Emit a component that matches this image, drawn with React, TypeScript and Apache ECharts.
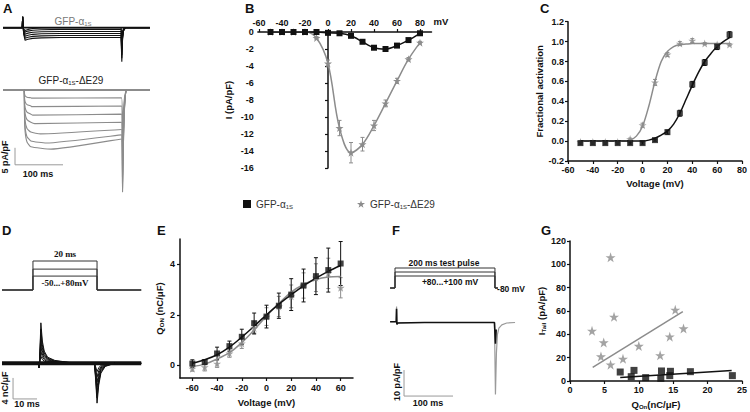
import React, { useEffect, useRef } from 'react';
import * as echarts from 'echarts';

const STAR = 'path://M50,0L61.8,35.3L98.9,35.3L68.9,57.3L80.3,92.7L50,70.9L19.7,92.7L31.1,57.3L1.1,35.3L38.2,35.3Z';
const WT = 'GFP-α1S';
const DE = 'GFP-α1S-ΔE29';
const BLACK = '#111111';
const GREY = '#8c8c8c';

// ---- Panel A: current traces (pA/pF vs ms)
const A_WT_T = [0, 40, 41, 42, 43, 46, 52, 62, 80, 120, 246, 247.5, 249, 251, 255, 306];
const A_WT_LEVELS = [0, -0.5, -1.1, -1.7, -2.3, -2.9];
const A_WT_TAILS = [-3, -5, -6.5, -8, -9, -10];
const A_DE_PEAK = [-2.4, -4.9, -7.4, -9.9, -12.9, -15.6, -17.4];
const A_DE_END = [-2.3, -4.7, -7.1, -9.5, -11.6, -13.2, -14.4];
const A_DE_PEAK_T = [60, 60, 62, 66, 78, 90, 100];
const A_DE_TAILS = [-12, -18, -22, -25, -27, -29, -30];

// ---- Panel B: I-V
const B_V = [-50, -40, -30, -20, -10, 0, 10, 20, 30, 40, 50, 60, 70, 80];
const B_WT = [0, 0, 0, 0, 0, -0.1, -0.15, -0.45, -1.15, -1.85, -2.0, -1.6, -0.95, -0.15];
const B_DE = [0, 0, 0, 0, -0.7, -3.7, -11.3, -14.2, -13.2, -11.0, -8.4, -5.75, -3.2, -1.25];
const B_DE_ERR = [0, 0, 0, 0, 0.15, 0.4, 0.9, 1.2, 0.8, 0.6, 0.4, 0.3, 0.2, 0.15];

// ---- Panel C: fractional activation
const C_V = [-50, -40, -30, -20, -10, 0, 10, 20, 30, 40, 50, 60, 70];
const C_WT = [-0.02, -0.02, -0.02, -0.02, -0.02, -0.02, 0.01, 0.09, 0.28, 0.57, 0.79, 0.95, 1.07];
const C_DE = [-0.01, -0.01, -0.01, -0.01, 0.02, 0.16, 0.59, 0.87, 0.98, 1.01, 0.98, 0.97, 0.97];
const C_WT_ERR = [0.01, 0.01, 0.01, 0.01, 0.01, 0.01, 0.01, 0.02, 0.03, 0.03, 0.03, 0.03, 0.03];
const C_DE_ERR = [0.01, 0.01, 0.01, 0.01, 0.01, 0.02, 0.03, 0.02, 0.02, 0.02, 0.01, 0.01, 0.01];
const C_FIT_V = [-50, -30, -15, -10, -5, 0, 5, 10, 15, 20, 25, 30, 35, 40, 45, 50, 55, 60, 65, 70];
const C_FIT_DE = [0, 0, 0, 0.01, 0.05, 0.15, 0.35, 0.6, 0.8, 0.9, 0.95, 0.97, 0.975, 0.98, 0.98, 0.98, 0.98, 0.98, 0.98, 0.98];
const C_FIT_WT = [0, 0, 0, 0, 0, 0, 0.01, 0.03, 0.06, 0.1, 0.17, 0.28, 0.42, 0.56, 0.69, 0.8, 0.88, 0.95, 1.0, 1.04];

// ---- Panel D: charge traces
const D_PROTO_T = [0, 12.9, 12.9, 39.6, 39.6, 58];
const D_PROTO_LEVELS = [0.48, 0.72, 1.0];
const D_T = [0, 15.2, 15.5, 15.8, 16.2, 16.8, 17.6, 19, 22, 28, 38.5, 39.0, 39.6, 40.3, 41.2, 43, 47, 58];
const D_ON = [7.7, 6.5, 5.4, 4.3, 3.2, 2.2, 1.3];
const D_OFF = [-7.6, -6.6, -5.6, -4.6, -3.6, -2.6, -1.6];

// ---- Panel E: Q-V
const E_V = [-60, -50, -40, -30, -20, -10, 0, 10, 20, 30, 40, 50, 60];
const E_WT = [0.07, 0.13, 0.47, 0.76, 1.13, 1.67, 1.93, 2.36, 2.8, 3.16, 3.53, 3.77, 4.03];
const E_DE = [-0.13, -0.07, 0.07, 0.47, 0.87, 1.47, 1.93, 2.33, 2.73, 3.16, 3.47, 3.64, 3.07];
const E_WT_ERR = [0.15, 0.1, 0.25, 0.2, 0.3, 0.4, 0.45, 0.5, 0.63, 0.65, 0.73, 0.87, 0.87];
const E_DE_ERR = [0.1, 0.15, 0.15, 0.15, 0.2, 0.25, 0.35, 0.4, 0.45, 0.5, 0.55, 0.6, 0.4];
const E_FIT_WT = [0.08, 0.22, 0.42, 0.72, 1.12, 1.55, 2.0, 2.42, 2.8, 3.15, 3.45, 3.72, 3.95];
const E_FIT_DE = [-0.05, 0.05, 0.25, 0.5, 0.9, 1.4, 1.95, 2.45, 2.9, 3.2, 3.4, 3.5, 3.52];

// ---- Panel F: tail current
const F_PROTO_T = [-10, 0, 0, 204, 204, 210];
const F_PROTO_LEVELS = [0.6, 0.8, 1.0];
const F_DE_T = [-10, 2.5, 3.2, 3.8, 5, 10, 60, 150, 203, 205, 207, 209, 212, 218, 228, 245];
const F_DE_I = [0, 0, 5.8, -1.2, -0.6, -0.4, -0.3, -0.3, -0.3, -28, -12, -5, -2.5, -1.2, -0.5, -0.3];
const F_WT_T = [-10, 2.5, 3.2, 3.8, 5, 60, 203, 205, 206.5];
const F_WT_I = [0, 0, 5, -1, -0.5, -0.3, -0.3, -8.5, -3];

// ---- Panel G: Itail vs Qon
const G_DE_X = [3.2, 4.5, 4.9, 5.9, 5.9, 6.4, 7.7, 10.0, 13.1, 14.5, 15.3, 16.5];
const G_DE_Y = [43, 21, 33, 106, 14, 55, 19, 30, 22, 38, 61, 45];
const G_DE_FIT_X = [3.3, 16.4];
const G_DE_FIT_Y = [11.7, 59.4];
const G_WT_X = [7.3, 8.9, 9.3, 11.0, 13.3, 13.2, 14.5, 14.6, 17.5, 23.6];
const G_WT_Y = [7.7, 3.7, 9.1, 2.9, 8.6, 2.3, 4.6, 8.3, 8.0, 4.6];
const G_WT_FIT_X = [7.3, 23.5];
const G_WT_FIT_Y = [3.1, 9.1];

const zip = (a: number[], b: number[]) => a.map((x, i) => [x, b[i]]);
const zip3 = (a: number[], b: number[], c: number[]) => a.map((x, i) => [x, b[i], c[i]]);

const FONT = 'Liberation Sans';
const lbl = { fontFamily: FONT, fontWeight: 'bold', fontSize: 9, color: '#111' };
const axLine = { show: true, lineStyle: { color: '#111', width: 1.5 } };
const axTick = { show: true, length: 3, lineStyle: { color: '#111', width: 1.2 } };
const nameStyle = { fontFamily: FONT, fontWeight: 'bold', fontSize: 9.5, color: '#111' };
const richName = {
  a: { fontFamily: FONT, fontWeight: 'bold', fontSize: 9.5, color: '#111' },
  s: { fontFamily: FONT, fontWeight: 'bold', fontSize: 6, color: '#111', padding: [6, 0, 0, 0] },
};

function hidden(gridIndex: number, min: number, max: number) {
  return { type: 'value', gridIndex, min, max, show: false };
}

function errRender(color: string, cap: number) {
  return (params: any, api: any) => {
    const x = api.value(0), y = api.value(1), e = api.value(2);
    const p1 = api.coord([x, y + e]);
    const p2 = api.coord([x, y - e]);
    const s = { stroke: color, lineWidth: 1 };
    return {
      type: 'group',
      children: [
        { type: 'line', shape: { x1: p1[0], y1: p1[1], x2: p2[0], y2: p2[1] }, style: s },
        { type: 'line', shape: { x1: p1[0] - cap, y1: p1[1], x2: p1[0] + cap, y2: p1[1] }, style: s },
        { type: 'line', shape: { x1: p2[0] - cap, y1: p2[1], x2: p2[0] + cap, y2: p2[1] }, style: s },
      ],
    };
  };
}

function traceLine(gi: number, data: number[][], color: string, width: number, z = 2): any {
  return {
    type: 'line', xAxisIndex: gi, yAxisIndex: gi, data, symbol: 'none', silent: true,
    lineStyle: { color, width }, z, clip: false,
  };
}

function buildOption() {
  const series: any[] = [];

  // Panel A black
  A_WT_LEVELS.forEach((L, i) => {
    const tail = A_WT_TAILS[i];
    const v = [0, 0, 3.2, 0.3, L * 0.5 - 0.4, L - 0.8, L - 0.5, L - 0.25, L - 0.1, L, L, tail, tail * 0.35, tail * 0.1, 0, 0];
    series.push(traceLine(0, zip(A_WT_T, v), BLACK, 1.1));
  });
  series.push(traceLine(0, [[0, 0], [306, 0]], BLACK, 1.8));
  // Panel A grey
  series.push(traceLine(1, [[0, 0], [306, 0]], GREY, 2));
  A_DE_PEAK.forEach((p, i) => {
    const e = A_DE_END[i], tail = A_DE_TAILS[i], pt = A_DE_PEAK_T[i];
    const t = [0, 44, 44.8, 46, 50, 58, pt, 247, 249, 251, 253.5, 258, 306];
    const v = [0, 0, p * 0.45, p * 0.7, p * 0.88, p * 0.96, p, e, tail, tail * 0.5, tail * 0.15, 0, 0];
    series.push({ ...traceLine(1, zip(t, v), GREY, 1.1), smooth: 0.15 });
  });
  // scale bar A (5 pA/pF, 100 ms)
  series.push(traceLine(1, [[25, -17], [25, -22], [125, -22]], '#9a9a9a', 1));

  // Panel B
  series.push({
    type: 'custom', xAxisIndex: 2, yAxisIndex: 2, data: zip3(B_V, B_DE, B_DE_ERR),
    renderItem: errRender(GREY, 2), z: 1, silent: true,
  });
  series.push({
    name: DE, type: 'line', xAxisIndex: 2, yAxisIndex: 2, data: zip(B_V, B_DE), smooth: 0.35,
    symbol: STAR, symbolSize: 8, itemStyle: { color: GREY }, lineStyle: { color: GREY, width: 1.5 }, z: 3,
  });
  series.push({
    name: WT, type: 'line', xAxisIndex: 2, yAxisIndex: 2, data: zip(B_V, B_WT), smooth: 0.3,
    symbol: 'rect', symbolSize: 6, itemStyle: { color: BLACK }, lineStyle: { color: BLACK, width: 1.5 }, z: 4,
  });

  // Panel C
  series.push({ ...traceLine(3, zip(C_FIT_V, C_FIT_DE), GREY, 1.5), smooth: 0.3 });
  series.push({ ...traceLine(3, zip(C_FIT_V, C_FIT_WT), BLACK, 1.5), smooth: 0.3 });
  series.push({ type: 'custom', xAxisIndex: 3, yAxisIndex: 3, data: zip3(C_V, C_WT, C_WT_ERR), renderItem: errRender(BLACK, 2), z: 1, silent: true });
  series.push({ type: 'custom', xAxisIndex: 3, yAxisIndex: 3, data: zip3(C_V, C_DE, C_DE_ERR), renderItem: errRender(GREY, 2), z: 1, silent: true });
  series.push({ name: WT, type: 'scatter', xAxisIndex: 3, yAxisIndex: 3, data: zip(C_V, C_WT), symbol: 'rect', symbolSize: 6, itemStyle: { color: BLACK }, z: 4 });
  series.push({ name: DE, type: 'scatter', xAxisIndex: 3, yAxisIndex: 3, data: zip(C_V, C_DE), symbol: STAR, symbolSize: 8, itemStyle: { color: GREY }, z: 3 });

  // Panel D protocol
  D_PROTO_LEVELS.forEach((L) => {
    series.push(traceLine(4, zip(D_PROTO_T, [0, 0, L, L, 0, 0]), '#333', 1));
  });
  // Panel D traces
  series.push(traceLine(5, [[0, 0], [58, 0]], BLACK, 4));
  D_ON.forEach((on, i) => {
    const off = D_OFF[i];
    const v = [0, 0, -0.9, 0.3 * on, on, 0.55 * on, 0.3 * on, 0.15 * on, 0.07 * on, 0.02 * on, 0, 0.4 * off, off, 0.55 * off, 0.25 * off, 0.08 * off, 0, 0];
    series.push(traceLine(5, zip(D_T, v), BLACK, 1));
  });
  series.push(traceLine(5, [[4.6, -2.8], [4.6, -6.8], [14.6, -6.8]], '#9a9a9a', 1));

  // Panel E
  series.push({ type: 'custom', xAxisIndex: 6, yAxisIndex: 6, data: zip3(E_V, E_DE, E_DE_ERR), renderItem: errRender(GREY, 2), z: 1, silent: true });
  series.push({ type: 'custom', xAxisIndex: 6, yAxisIndex: 6, data: zip3(E_V, E_WT, E_WT_ERR), renderItem: errRender(BLACK, 2), z: 1, silent: true });
  series.push({ ...traceLine(6, zip(E_V, E_FIT_DE), GREY, 1.5), smooth: 0.3 });
  series.push({ ...traceLine(6, zip(E_V, E_FIT_WT), BLACK, 1.5), smooth: 0.3 });
  series.push({ name: DE, type: 'scatter', xAxisIndex: 6, yAxisIndex: 6, data: zip(E_V, E_DE), symbol: STAR, symbolSize: 8, itemStyle: { color: GREY }, z: 3 });
  series.push({ name: WT, type: 'scatter', xAxisIndex: 6, yAxisIndex: 6, data: zip(E_V, E_WT), symbol: 'rect', symbolSize: 6, itemStyle: { color: BLACK }, z: 4 });

  // Panel F protocol
  F_PROTO_LEVELS.forEach((L) => {
    series.push(traceLine(7, zip(F_PROTO_T, [0, 0, L, L, 0, 0]), '#333', 1));
  });
  series.push(traceLine(8, zip(F_DE_T, F_DE_I), '#9a9a9a', 1.2));
  series.push(traceLine(8, zip(F_WT_T, F_WT_I), BLACK, 1.6, 3));
  series.push(traceLine(8, [[18.4, -18.6], [18.4, -28.6], [118.4, -28.6]], '#9a9a9a', 1));

  // Panel G
  series.push(traceLine(9, zip(G_DE_FIT_X, G_DE_FIT_Y), GREY, 1.5));
  series.push(traceLine(9, zip(G_WT_FIT_X, G_WT_FIT_Y), BLACK, 1.5));
  series.push({ name: DE, type: 'scatter', xAxisIndex: 9, yAxisIndex: 9, data: zip(G_DE_X, G_DE_Y), symbol: STAR, symbolSize: 10, itemStyle: { color: GREY }, z: 3 });
  series.push({ name: WT, type: 'scatter', xAxisIndex: 9, yAxisIndex: 9, data: zip(G_WT_X, G_WT_Y), symbol: 'rect', symbolSize: 7, itemStyle: { color: BLACK }, z: 4 });

  const grid = [
    { left: 3, top: 10.02, width: 146.9, height: 55.08 }, // A1
    { left: 3, top: 79.8, width: 146.9, height: 115.6 }, // A2
    { left: 257.85, top: 32, width: 173.65, height: 136 }, // B
    { left: 568, top: 21.7, width: 177, height: 139.3 }, // C
    { left: 2, top: 255.2, width: 139.2, height: 40.6 }, // D1
    { left: 2, top: 316, width: 139.2, height: 94.5 }, // D2
    { left: 180, top: 239, width: 173, height: 139 }, // E
    { left: 390.1, top: 264, width: 124.95, height: 28 }, // F1
    { left: 390.1, top: 300.9, width: 124.95, height: 98.8 }, // F2
    { left: 570, top: 241, width: 172, height: 140 }, // G
  ];

  const xAxis: any[] = [
    hidden(0, 0, 306),
    hidden(1, 0, 306),
    {
      type: 'value', gridIndex: 2, min: -61, max: 90, position: 'top',
      axisLine: { ...axLine, onZero: false }, axisTick: { ...axTick, customValues: [-60, -40, -20, 0, 20, 40, 60, 80] },
      axisLabel: { ...lbl, margin: 5, customValues: [-60, -40, -20, 0, 20, 40, 60, 80] },
      splitLine: { show: false },
      name: 'mV', nameLocation: 'end', nameGap: 2,
      nameTextStyle: { ...nameStyle, fontSize: 9.5, verticalAlign: 'bottom', padding: [0, 0, 6, 0] },
    },
    {
      type: 'value', gridIndex: 3, min: -60, max: 80, interval: 20,
      axisLine: { ...axLine, onZero: false }, axisTick: axTick, axisLabel: { ...lbl, margin: 4 }, splitLine: { show: false },
      name: 'Voltage (mV)', nameLocation: 'middle', nameGap: 17, nameTextStyle: nameStyle,
    },
    hidden(4, 0, 58),
    hidden(5, 0, 58),
    {
      type: 'value', gridIndex: 6, min: -70, max: 70,
      axisLine: { ...axLine, onZero: false }, axisTick: { ...axTick, customValues: [-60, -40, -20, 0, 20, 40, 60] },
      axisLabel: { ...lbl, margin: 5, customValues: [-60, -40, -20, 0, 20, 40, 60] }, splitLine: { show: false },
      name: 'Voltage (mV)', nameLocation: 'middle', nameGap: 19, nameTextStyle: nameStyle,
    },
    hidden(7, -10, 245),
    hidden(8, -10, 245),
    {
      type: 'value', gridIndex: 9, min: 0, max: 25, interval: 5,
      axisLine: { ...axLine, onZero: false }, axisTick: axTick, axisLabel: { ...lbl, margin: 4 }, splitLine: { show: false },
      name: '{a|Q}{s|On}{a|(nC/μF)}', nameLocation: 'middle', nameGap: 17, nameTextStyle: { ...nameStyle, rich: richName },
    },
  ];

  const yAxis: any[] = [
    hidden(0, -11, 5.2),
    hidden(1, -31, 3),
    {
      type: 'value', gridIndex: 2, min: -16, max: 0, interval: 2,
      axisLine: { ...axLine, onZero: true }, axisTick: axTick, axisLabel: { ...lbl, margin: 4 }, splitLine: { show: false },
      name: 'I (pA/pF)', nameLocation: 'middle', nameGap: 24, nameTextStyle: nameStyle,
    },
    {
      type: 'value', gridIndex: 3, min: -0.2, max: 1.2, interval: 0.2,
      axisLine: { ...axLine, onZero: false }, axisTick: axTick,
      axisLabel: { ...lbl, margin: 4, formatter: (v: number) => v.toFixed(1) }, splitLine: { show: false },
      name: 'Fractional activation', nameLocation: 'middle', nameGap: 21, nameTextStyle: nameStyle,
    },
    hidden(4, -0.2, 1.2),
    hidden(5, -9, 9),
    {
      type: 'value', gridIndex: 6, min: -0.5, max: 5,
      axisLine: { ...axLine, onZero: false }, axisTick: { ...axTick, customValues: [0, 2, 4] },
      axisLabel: { ...lbl, margin: 5, customValues: [0, 2, 4] }, splitLine: { show: false },
      name: '{a|Q}{s|ON}{a| (nC/μF)}', nameLocation: 'middle', nameGap: 15, nameTextStyle: { ...nameStyle, rich: richName },
    },
    hidden(7, -0.2, 1.2),
    hidden(8, -30, 8),
    {
      type: 'value', gridIndex: 9, min: 0, max: 120, interval: 20,
      axisLine: { ...axLine, onZero: false }, axisTick: axTick, axisLabel: { ...lbl, margin: 4 }, splitLine: { show: false },
      name: '{a|I}{s|Tail}{a| (pA/pF)}', nameLocation: 'middle', nameGap: 19, nameTextStyle: { ...nameStyle, rich: richName },
    },
  ];

  const letter = (t: string, x: number, y: number) => ({
    type: 'text', left: x, top: y, style: { text: t, fontFamily: FONT, fontWeight: 'bold', fontSize: 13, fill: '#111' },
  });
  const txt = (t: string, x: number, y: number, o: any = {}) => ({
    type: 'text', x, y, style: { text: t, fontFamily: FONT, fontWeight: 'bold', fontSize: 9, fill: '#111', align: 'center', verticalAlign: 'middle', ...o },
  });
  const rot = (t: string, x: number, y: number) => ({
    type: 'text', x, y, rotation: Math.PI / 2,
    style: { text: t, fontFamily: FONT, fontWeight: 'bold', fontSize: 9, fill: '#111', align: 'center', verticalAlign: 'middle' },
  });
  const subRich = (color: string, size: number, weight: string) => ({
    a: { fontFamily: FONT, fontSize: size, fill: color, color, fontWeight: weight },
    s: { fontFamily: FONT, fontSize: size * 0.6, fill: color, color, fontWeight: weight, padding: [5, 0, 0, 0] },
  });

  const graphic: any[] = [
    letter('A', 3, 2), letter('B', 245, 2), letter('C', 540, 2),
    letter('D', 2, 224), letter('E', 157, 224), letter('F', 392, 224), letter('G', 541, 224),
    { type: 'text', x: 73, y: 21, style: { text: '{a|GFP-α}{s|1S}', rich: subRich('#777', 10, 'normal'), align: 'center', verticalAlign: 'middle' } },
    { type: 'text', x: 71, y: 80, style: { text: '{a|GFP-α}{s|1S}{a|-ΔE29}', rich: subRich('#222', 10, 'normal'), align: 'center', verticalAlign: 'middle' } },
    txt('100 ms', 38, 174),
    txt('20 ms', 65, 254, { fontFamily: 'Liberation Serif', fontSize: 9 }),
    txt('-50...+80mV', 65, 283, { fontFamily: 'Liberation Serif', fontSize: 9 }),
    txt('10 ms', 27, 404),
    txt('200 ms test pulse', 444, 263, { fontSize: 8.5 }),
    txt('+80...+100 mV', 450, 282, { fontSize: 8.5 }),
    txt('-80 mV', 511, 289, { fontSize: 8.5 }),
    txt('100 ms', 428, 403),
    rot('5 pA/pF', 5, 157),
    rot('4 nC/μF', 5, 388),
    rot('10 pA/pF', 397, 382),
  ];

  return {
    animation: false,
    textStyle: { fontFamily: FONT },
    grid,
    xAxis,
    yAxis,
    series,
    graphic,
    legend: {
      left: 238, top: 194, itemWidth: 8, itemHeight: 8, itemGap: 64, selectedMode: false,
      data: [{ name: WT, icon: 'rect' }, { name: DE, icon: STAR }],
      formatter: (n: string) => (n === WT ? '{a|GFP-α}{s|1S}' : '{a|GFP-α}{s|1S}{a|-ΔE29}'),
      textStyle: {
        color: '#333',
        rich: {
          a: { fontFamily: FONT, fontSize: 10, color: '#333' },
          s: { fontFamily: FONT, fontSize: 6, color: '#333', padding: [5, 0, 0, 0] },
        },
      },
    },
  };
}

export default function App() {
  const ref = useRef<HTMLDivElement>(null);
  useEffect(() => {
    const chart = echarts.init(ref.current!, null, { renderer: 'svg' });
    chart.setOption(buildOption() as any);
    return () => chart.dispose();
  }, []);
  return <div ref={ref} style={{ position: 'fixed', left: 0, top: 0, width: 750, height: 412, background: '#fff' }} />;
}
